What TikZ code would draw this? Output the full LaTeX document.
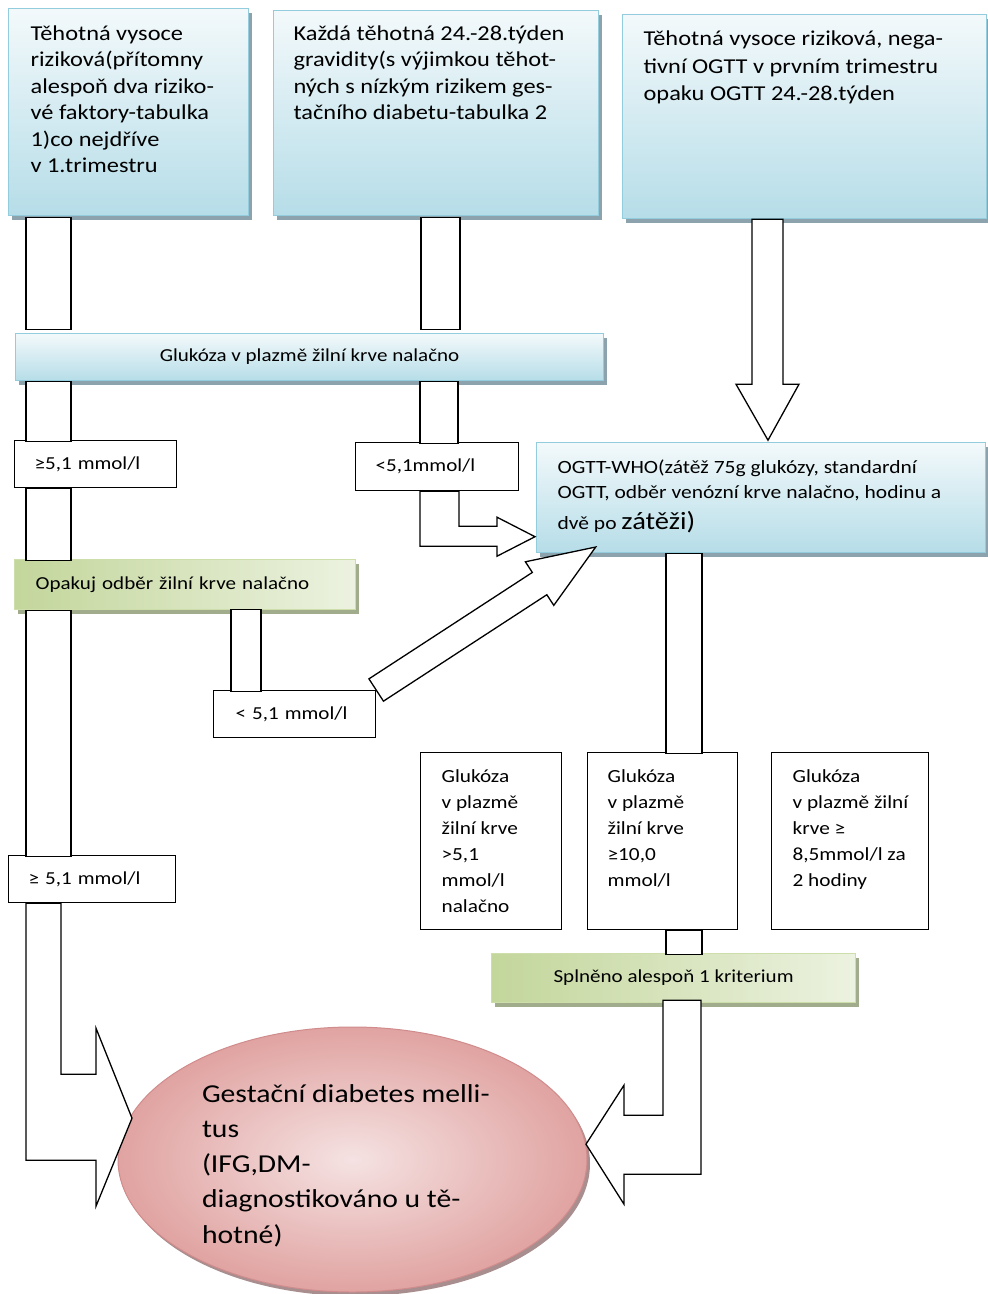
\documentclass[tikz,border=0pt]{standalone}
\usepackage{fontspec}
\setmainfont{Carlito}[FakeStretch=1.15]
\usetikzlibrary{shapes.geometric,shadows}
\definecolor{btop}{RGB}{243,249,251}
\definecolor{bbot}{RGB}{182,221,232}
\definecolor{bline}{RGB}{147,205,221}
\definecolor{bshadow}{RGB}{140,162,172}
\definecolor{gleft}{RGB}{195,214,155}
\definecolor{gright}{RGB}{236,242,224}
\definecolor{gline}{RGB}{205,222,170}
\definecolor{gshadow}{RGB}{160,172,140}
\definecolor{pin}{RGB}{245,226,226}
\definecolor{pout}{RGB}{224,163,161}
\definecolor{pline}{RGB}{208,140,140}
\definecolor{pshadow}{RGB}{168,142,142}
\newcommand\fTop{\fontsize{21.2}{26.4}\selectfont}
\newcommand\fTopC{\fontsize{21.2}{27.5}\selectfont}
\newcommand\fBar{\fontsize{18.3}{22}\selectfont}
\newcommand\fOg{\fontsize{18.7}{25}\selectfont}
\newcommand\fGl{\fontsize{18.5}{26}\selectfont}
\newcommand\fEl{\fontsize{25.8}{35.3}\selectfont}
\newcommand\fBig{\fontsize{24.8}{30}\selectfont}
\newcommand\tb[3]{\parbox[t][#2pt][t]{#1pt}{\begin{tabular}[t]{@{}l@{}}#3\end{tabular}}}
\tikzset{
  bluebox/.style={draw=bline, line width=1.2pt, top color=btop, bottom color=bbot, anchor=north west, inner sep=0pt,
    drop shadow={shadow xshift=3pt, shadow yshift=-4pt, fill=bshadow, opacity=1}},
  greenbox/.style={draw=gline, line width=1.2pt, left color=gleft, right color=gright, anchor=north west, inner sep=0pt,
    drop shadow={shadow xshift=3pt, shadow yshift=-4pt, fill=gshadow, opacity=1}},
  plainbox/.style={draw=black, line width=1.2pt, fill=white, anchor=north west, inner sep=0pt},
  conn/.style={draw=black, line width=1.3pt, fill=white, line join=miter},
  goal/.style={ellipse, draw=pline, line width=1pt, inner color=pin, outer color=pout, inner sep=0pt,
    drop shadow={shadow xshift=3pt, shadow yshift=-4pt, fill=pshadow, opacity=1}}
}
\begin{document}
\begin{tikzpicture}[x=1pt,y=-1pt]
\useasboundingbox[fill=white] (0,0) rectangle (988,1294);

% top boxes
\node[bluebox, font=\fTop, inner xsep=22pt, inner ysep=13.5pt] (b1) at (8,8)
  {\tb{196}{180}{Těhotná vysoce\\riziková(přítomny\\alespoň dva riziko-\\vé faktory-tabulka\\1)co nejdříve\\v 1.trimestru}};
\node[bluebox, font=\fTop, inner xsep=20pt, inner ysep=11.5pt] (b2) at (273,10)
  {\tb{285}{182}{Každá těhotná 24.-28.týden\\gravidity(s výjimkou těhot-\\ných s nízkým rizikem ges-\\tačního diabetu-tabulka 2}};
\node[bluebox, font=\fTopC, inner xsep=21pt, inner ysep=11.75pt] (b3) at (622,14)
  {\tb{322}{180.5}{Těhotná vysoce riziková, nega-\\tivní OGTT v prvním trimestru\\opaku OGTT 24.-28.týden}};

% fasting glucose bar
\node[bluebox, font=\fBar, minimum width=588pt, minimum height=47pt] (glu) at (15,333)
  {Glukóza v plazmě žilní krve nalačno};

\node[plainbox, font=\fBar, minimum width=162pt, minimum height=47pt, text width=122pt, inner xsep=20pt, align=left] (ge1) at (14,440) {≥5,1 mmol/l};
\node[plainbox, font=\fBar, minimum width=163pt, minimum height=48pt, text width=123pt, inner xsep=20pt, align=left] (lt1) at (355,442) {<5,1mmol/l};

\node[greenbox, font=\fBar, minimum width=341pt, minimum height=50pt, text width=299pt, inner xsep=21pt, align=left] (opak) at (14,559)
  {Opakuj odběr žilní krve nalačno};

\node[plainbox, font=\fBar, minimum width=162pt, minimum height=47pt, text width=118pt, inner xsep=22pt, align=left] (lt2) at (213,690) {< 5,1 mmol/l};
\node[plainbox, font=\fBar, minimum width=167pt, minimum height=47pt, text width=127pt, inner xsep=20pt, align=left] (ge2) at (8,855) {≥ 5,1 mmol/l};

% OGTT box
\node[bluebox, font=\fOg, inner xsep=21pt, inner ysep=13.5pt] (og) at (536,442)
  {\tb{407}{83}{OGTT-WHO(zátěž 75g glukózy, standardní\\OGTT, odběr venózní krve nalačno, hodinu a\\[5pt]dvě po {\fBig zátěži)}}};

% criteria boxes
\node[plainbox, font=\fGl, inner xsep=21pt, inner ysep=11.8pt] (gA) at (420,752)
  {\tb{99}{153.4}{Glukóza\\v plazmě\\žilní krve\\>5,1\\mmol/l\\nalačno}};
\node[plainbox, font=\fGl, inner xsep=20pt, inner ysep=11.8pt] (gB) at (587,752)
  {\tb{110}{153.4}{Glukóza\\v plazmě\\žilní krve\\≥10,0\\mmol/l}};
\node[plainbox, font=\fGl, inner xsep=21pt, inner ysep=11.8pt] (gC) at (771,752)
  {\tb{115}{153.4}{Glukóza\\v plazmě žilní\\krve ≥\\8,5mmol/l za\\2 hodiny}};

\node[greenbox, font=\fBar, minimum width=364pt, minimum height=49pt] (spl) at (491,953)
  {Splněno alespoň 1 kriterium};

% connectors (block shapes)
\draw[conn] (b1.south west) ++(18,1) rectangle ++(45,112);
\draw[conn] (b2.south west) ++(148,1) rectangle ++(39,112);
\draw[conn] (glu.south west) ++(11,0) rectangle ++(45,60);
\draw[conn] (glu.south west) ++(405,0) rectangle ++(38,62);
\draw[conn] (ge1.south west) ++(12,0) rectangle ++(45,72);
\draw[conn] (opak.south west) ++(217,-1) rectangle ++(30,82);
\draw[conn] (opak.south west) ++(12,0) rectangle ++(45,246);
\draw[conn] (og.south west) ++(130,0) rectangle ++(36,200);
\draw[conn] (gB.south west) ++(79,0) rectangle ++(36,24);

% down arrow from b3 to og
\draw[conn] (b3.south west) ++(130,0) -- ++(0,165) -- ++(-16,0) -- ++(32,56) -- ++(31,-56) -- ++(-16,0) -- ++(0,-165) -- cycle;

% bent arrow from lt1 to og
\draw[conn] (lt1.south west) ++(65,0) -- ++(0,55) -- ++(77,0) -- ++(0,10) -- ++(38,-19.5) -- ++(-38,-19.5) -- ++(0,9) -- ++(-38,0) -- ++(0,-35) -- cycle;

% diagonal arrow from lt2 to og
\begin{scope}[shift={(lt2.north east)}, rotate=33.08]
\draw[conn] (0,-13.3) -- (195,-13.3) -- (195,-26) -- (262,0) -- (195,26) -- (195,13.3) -- (0,13.3) -- cycle;
\end{scope}

% goal ellipse
\node[goal, font=\fEl, minimum width=469pt, minimum height=265pt] (dm) at (352.5,1159.5)
  {\tb{301}{164.4}{Gestační diabetes melli-\\tus\\(IFG,DM-\\diagnostikováno u tě-\\hotné)}};

% bent arrow from ge2 to dm
\draw[conn] (ge2.south west) ++(18,0) -- ++(0,257) -- ++(70,0) -- ++(0,46) -- ++(36,-88) -- ++(-36,-90) -- ++(0,46) -- ++(-35,0) -- ++(0,-171) -- cycle;

% bent arrow from spl to dm
\draw[conn] (spl.south west) ++(210,-3) -- ++(0,174) -- ++(-77,0) -- ++(0,30) -- ++(-38,-60) -- ++(38,-59) -- ++(0,30) -- ++(39,0) -- ++(0,-115) -- cycle;
\end{tikzpicture}
\end{document}
